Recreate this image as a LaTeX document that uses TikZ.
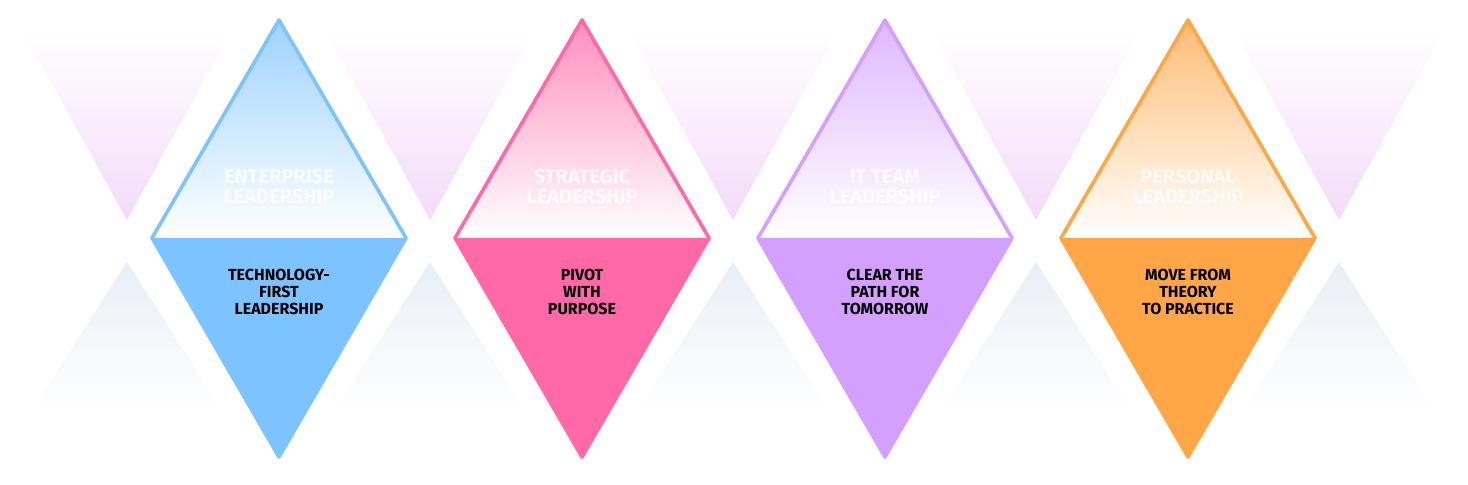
\documentclass[tikz,border=0pt]{standalone}
\usepackage{fontspec}
\setmainfont{Fira Sans}
\usetikzlibrary{positioning}
\definecolor{entblue}{HTML}{7DC3FF}
\definecolor{strpink}{HTML}{FF69A8}
\definecolor{itpurple}{HTML}{D4A0FF}
\definecolor{perorange}{HTML}{FFA646}
\definecolor{ghostpurple}{HTML}{F0D2F8}
\definecolor{ghostblue}{HTML}{E6ECF4}
\begin{document}
\begin{tikzpicture}[x=0.5pt, y=-0.5pt,
  toptext/.style={text=white, font=\bfseries\fontsize{10}{10}\selectfont, align=center, opacity=0.8},
  bottext/.style={text=black, font=\bfseries\fontsize{8}{8.6}\selectfont, align=center}]
  \useasboundingbox (0,0) rectangle (1468,485);
  % faint triangles behind
  \foreach \gx in {127,430,733,1036,1339} {
    \shade[top color=white, bottom color=ghostpurple, opacity=0.8]
      (\gx-105,30) -- (\gx+105,30) -- (\gx,220) -- cycle;
    \shade[top color=ghostblue, bottom color=white, opacity=0.9]
      (\gx,262) -- (\gx+95,410) -- (\gx-95,410) -- cycle;
  }
  % diamonds
  \foreach \cx/\col/\up/\low [count=\i] in {
    279/entblue/{ENTERPRISE\\LEADERSHIP}/{TECHNOLOGY-\\FIRST\\LEADERSHIP},
    582/strpink/{STRATEGIC\\LEADERSHIP}/{PIVOT\\WITH\\PURPOSE},
    885/itpurple/{IT TEAM\\LEADERSHIP}/{CLEAR THE\\PATH FOR\\TOMORROW},
    1188/perorange/{PERSONAL\\LEADERSHIP}/{MOVE FROM\\THEORY\\TO PRACTICE}} {
    \coordinate (top\i) at (\cx,20);
    \coordinate (left\i) at (\cx-127,238);
    \coordinate (right\i) at (\cx+127,238);
    \coordinate (bot\i) at (\cx,457);
    \shade[top color=\col!75, bottom color=white]
      (top\i) -- (right\i) -- (left\i) -- cycle;
    \fill[\col] (left\i) -- (right\i) -- (bot\i) -- cycle;
    \draw[\col, line width=1.8pt, line join=round]
      (top\i) -- (right\i) -- (bot\i) -- (left\i) -- cycle;
    \node[toptext] (up\i) at (\cx,187) {\up};
    \node[bottext] (low\i) at (\cx,292) {\low};
  }
\end{tikzpicture}
\end{document}
